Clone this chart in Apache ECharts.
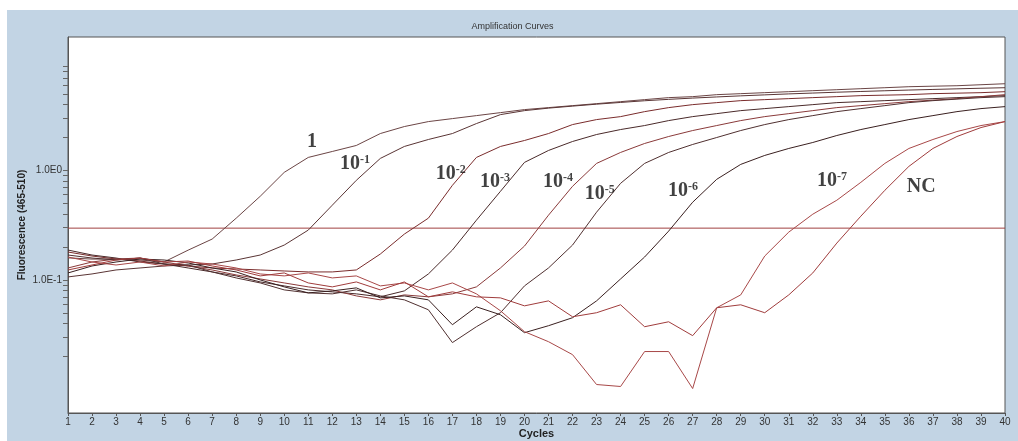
<!DOCTYPE html>
<html>
<head>
<meta charset="utf-8">
<script src="https://cdn.jsdelivr.net/npm/echarts@6/dist/echarts.min.js"></script>
<style>
  html, body { margin: 0; padding: 0; background: #ffffff; width: 1018px; height: 441px; overflow: hidden; }
  #frame { position: absolute; left: 7px; top: 10px; width: 1011px; height: 431px; background: #c2d4e4; }
  #chart { width: 1011px; height: 431px; }
</style>
</head>
<body>
<div id="frame"><div id="chart"></div></div>
<script>
// ---- data ----
const cycles = [1,2,3,4,5,6,7,8,9,10,11,12,13,14,15,16,17,18,19,20,21,22,23,24,25,26,27,28,29,30,31,32,33,34,35,36,37,38,39,40];

const curve1 = [0.159,0.155,0.155,0.152,0.146,0.187,0.236,0.366,0.580,0.959,1.313,1.488,1.688,2.169,2.512,2.789,2.969,3.161,3.366,3.587,3.740,3.900,4.066,4.240,4.423,4.613,4.710,4.911,5.015,5.121,5.229,5.340,5.451,5.566,5.684,5.804,5.870,5.926,6.052,6.180];
const curveE1 = [0.1065,0.1134,0.1233,0.1286,0.1341,0.1369,0.1398,0.152,0.1688,0.2081,0.285,0.481,0.811,1.286,1.653,1.914,2.169,2.675,3.228,3.51,3.70,3.86,4.02,4.17,4.32,4.45,4.57,4.68,4.79,4.89,4.99,5.08,5.17,5.25,5.33,5.41,5.48,5.55,5.62,5.684];
const curveE2 = [0.1797,0.1653,0.1552,0.1488,0.1398,0.1341,0.1286,0.1259,0.1233,0.1207,0.1183,0.1183,0.1233,0.1724,0.2621,0.3663,0.7304,1.313,1.653,1.874,2.169,2.619,2.908,3.096,3.437,3.740,3.982,4.153,4.33,4.423,4.517,4.613,4.710,4.810,4.86,4.911,5.015,5.068,5.121,5.229];
const curveE3 = [0.1874,0.1688,0.1585,0.1458,0.1398,0.1286,0.1183,0.1088,0.0959,0.0882,0.0811,0.0778,0.0746,0.0701,0.0794,0.1134,0.1874,0.351,0.644,1.183,1.52,1.835,2.125,2.359,2.565,2.848,3.096,3.296,3.51,3.663,3.819,3.982,4.153,4.240,4.33,4.423,4.517,4.613,4.710,4.810];
const curveE4 = [0.1286,0.1458,0.1552,0.1585,0.1458,0.1341,0.1233,0.1111,0.1021,0.0939,0.0864,0.0811,0.0715,0.0658,0.0730,0.0701,0.0746,0.0864,0.1286,0.2038,0.390,0.7154,1.158,1.458,1.760,2.038,2.31,2.565,2.848,3.096,3.296,3.51,3.740,3.900,4.066,4.240,4.376,4.517,4.710,4.911];
const curveE5 = [0.1688,0.1585,0.152,0.1585,0.1398,0.1369,0.1183,0.1043,0.0939,0.0811,0.0762,0.0746,0.0811,0.0715,0.0658,0.0534,0.0268,0.0374,0.0502,0.0882,0.1286,0.2081,0.4153,0.7616,1.158,1.458,1.724,1.995,2.31,2.619,2.908,3.161,3.437,3.663,3.900,4.153,4.33,4.47,4.613,4.710];
const curveE6 = [0.1158,0.1341,0.1458,0.1552,0.152,0.1428,0.1286,0.1183,0.1,0.0864,0.0762,0.0794,0.0846,0.0686,0.0715,0.0658,0.0390,0.0568,0.0481,0.0330,0.0382,0.0452,0.0644,0.1021,0.1619,0.2791,0.5121,0.8284,1.134,1.369,1.585,1.797,2.081,2.359,2.619,2.908,3.161,3.437,3.663,3.819];
const curveE7 = [0.1619,0.1458,0.1369,0.1458,0.1341,0.1458,0.1398,0.1286,0.1134,0.1088,0.1158,0.1043,0.1088,0.0882,0.0939,0.0811,0.0939,0.0746,0.0523,0.0337,0.0273,0.0208,0.0111,0.01065,0.0222,0.0222,0.0102,0.0557,0.0730,0.1653,0.2733,0.3982,0.534,0.7778,1.158,1.585,1.914,2.262,2.565,2.789];
const curveNC = [0.1233,0.1369,0.152,0.1585,0.1458,0.1488,0.1341,0.1233,0.1088,0.1158,0.0939,0.0864,0.0959,0.0811,0.0959,0.0701,0.0778,0.0701,0.0686,0.0580,0.0644,0.0461,0.0502,0.0593,0.0374,0.0415,0.0310,0.0557,0.0593,0.0502,0.0730,0.1158,0.2169,0.3819,0.658,1.0876,1.585,2.038,2.460,2.789];

const threshold = 0.297;
const thresholdCycles = [1, 40];

const yTickValues = [0.02,0.03,0.04,0.05,0.06,0.07,0.08,0.09,0.1,0.2,0.3,0.4,0.5,0.6,0.7,0.8,0.9,1,2,3,4,5,6,7,8,9];
const yLabelValues = [0.1, 1];
const yLabelTexts = ['1.0E-1', '1.0E0'];

const labelBase = ['1','10','10','10','10','10','10','10','NC'];
const labelSup  = ['','-1','-2','-3','-4','-5','-6','-7',''];
const labelCycle = [10.95,12.32,16.31,18.15,20.77,22.51,25.97,32.17,35.91];
const labelValue = [1.84,1.15,0.935,0.79,0.79,0.615,0.655,0.805,0.71];

// ---- styling ----
const curveList = [curve1, curveE1, curveE2, curveE3, curveE4, curveE5, curveE6, curveE7, curveNC];
const curveNames = ['1','10-1','10-2','10-3','10-4','10-5','10-6','10-7','NC'];
const curveColors = ['#6b4545','#5a3535','#7a2c2c','#4a2a2a','#8a3a3a','#503030','#3a2020','#a84848','#a03c3c'];

const series = curveList.map((vals, i) => ({
  name: curveNames[i],
  type: 'line',
  data: cycles.map((c, k) => [c, vals[k]]),
  showSymbol: false,
  symbol: 'none',
  smooth: false,
  lineStyle: { width: 1, color: curveColors[i] },
  itemStyle: { color: curveColors[i] },
  z: 3
}));

series.push({
  name: 'threshold',
  type: 'line',
  data: thresholdCycles.map(c => [c, threshold]),
  showSymbol: false,
  symbol: 'none',
  silent: true,
  lineStyle: { width: 1, color: '#a04040' },
  itemStyle: { color: '#a04040' },
  z: 2
});

const serif = "'Liberation Serif','Times New Roman',serif";
series.push({
  name: 'labels',
  type: 'scatter',
  symbolSize: 0,
  silent: true,
  z: 5,
  data: labelBase.map((b, i) => ({ value: [labelCycle[i], labelValue[i]], base: b, sup: labelSup[i] })),
  label: {
    show: true,
    position: 'right',
    distance: 0,
    formatter: p => p.data.sup ? '{b|' + p.data.base + '}{s|' + p.data.sup + '}' : '{b|' + p.data.base + '}',
    rich: {
      b: { fontFamily: serif, fontWeight: 'bold', fontSize: 20, color: '#111', lineHeight: 20, verticalAlign: 'bottom' },
      s: { fontFamily: serif, fontWeight: 'bold', fontSize: 12, color: '#111', lineHeight: 12, verticalAlign: 'top' }
    }
  }
});

const sans = "'Liberation Sans', Arial, sans-serif";
const chart = echarts.init(document.getElementById('chart'), null, { renderer: 'canvas' });
chart.setOption({
  animation: false,
  backgroundColor: 'transparent',
  title: {
    text: 'Amplification Curves',
    left: 'center',
    top: 7,
    textStyle: { fontSize: 9, fontWeight: 'normal', color: '#333', fontFamily: sans }
  },
  grid: {
    left: 61, right: 13, top: 27, bottom: 28,
    containLabel: false,
    outerBoundsMode: 'none',
    show: true, backgroundColor: '#ffffff', borderColor: '#555', borderWidth: 1
  },
  xAxis: {
    type: 'value', min: 1, max: 40, interval: 1,
    axisLine: { show: true, lineStyle: { color: '#555' } },
    axisTick: { show: true, length: 3, lineStyle: { color: '#555' } },
    axisLabel: { fontSize: 10, color: '#333', margin: 4, fontFamily: sans },
    splitLine: { show: false },
    name: 'Cycles', nameLocation: 'middle', nameGap: 15, nameMoveOverlap: false,
    nameTextStyle: { fontSize: 11, fontWeight: 'bold', color: '#222', fontFamily: sans }
  },
  yAxis: {
    type: 'log', logBase: 10, min: 0.0061, max: 16.5,
    axisLine: { show: true, lineStyle: { color: '#555' } },
    axisTick: { show: true, length: 5, customValues: yTickValues, lineStyle: { color: '#666' } },
    axisLabel: {
      customValues: yLabelValues,
      formatter: v => yLabelTexts[v >= 0.5 ? 1 : 0],
      fontSize: 10, color: '#333', margin: 6, fontFamily: sans
    },
    minorTick: { show: false },
    splitLine: { show: false },
    name: 'Fluorescence (465-510)', nameLocation: 'middle', nameGap: 41, nameMoveOverlap: false,
    nameTextStyle: { fontSize: 10, fontWeight: 'bold', color: '#222', fontFamily: sans }
  },
  series: series
});
</script>
</body>
</html>
